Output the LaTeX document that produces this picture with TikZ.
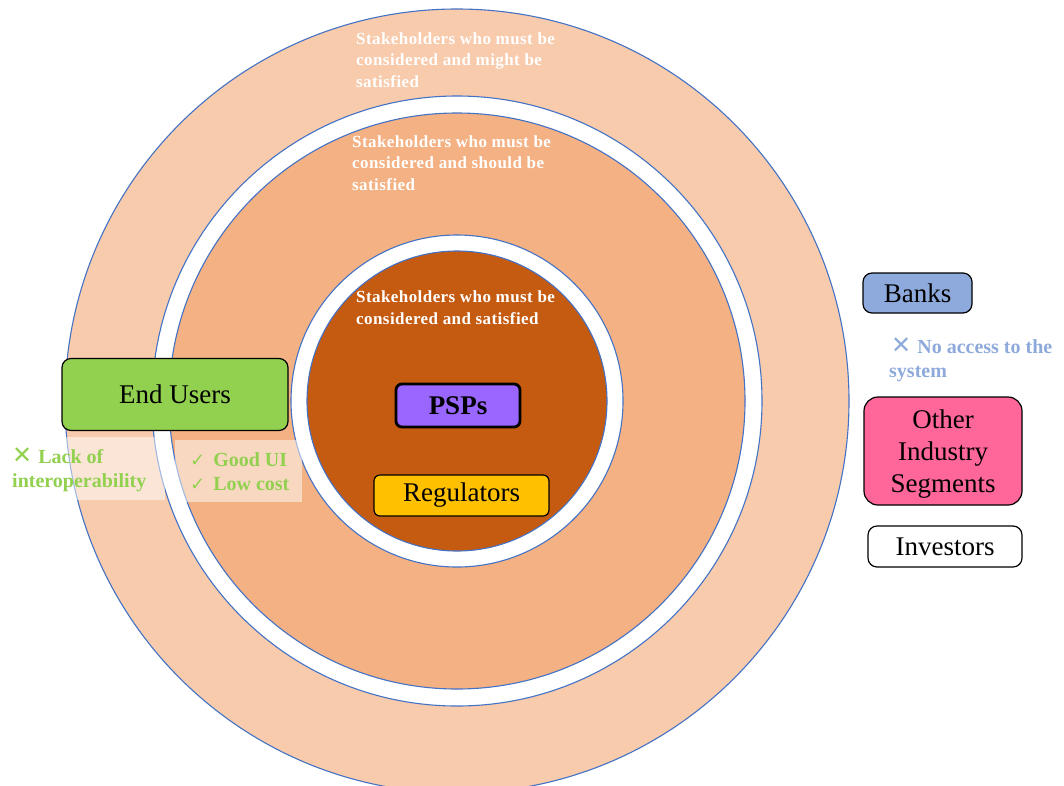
\documentclass[tikz,border=0pt]{standalone}
\usepackage{fontspec}
\setmainfont{Liberation Serif}
\newfontfamily\symfont{DejaVu Sans}
\definecolor{ringblue}{HTML}{4472C4}
\definecolor{outerpeach}{HTML}{F8CBAD}
\definecolor{midorange}{HTML}{F4B183}
\definecolor{coreorange}{HTML}{C55A11}
\definecolor{usergreen}{HTML}{92D050}
\definecolor{pspviolet}{HTML}{9966FF}
\definecolor{regyellow}{HTML}{FFC000}
\definecolor{bankblue}{HTML}{8EA9DB}
\definecolor{segpink}{HTML}{FF6699}
% thin cross and tick marks used in the remarks
\newcommand{\crossmark}{{\symfont\mdseries\fontsize{24}{24}\selectfont ✕}}
\newcommand{\tickmark}{{\symfont\mdseries\fontsize{18}{24}\selectfont ✓}}
\begin{document}
\begin{tikzpicture}[x=1pt,y=-1pt,
  disc/.style={draw=ringblue,line width=1.1pt},
  ringtext/.style={text=white,font=\bfseries\fontsize{17}{21.5}\selectfont\addfontfeatures{LetterSpace=2.5},align=left,inner sep=0pt,anchor=base west},
  actor/.style={draw=black,line width=1.2pt,rounded corners=9pt,inner sep=0pt,
    font=\fontsize{27}{32}\selectfont,align=center,text=black},
  note/.style={font=\bfseries\fontsize{20}{24}\selectfont,align=left,inner sep=0pt,anchor=base west},
  haze/.style={fill=white,fill opacity=0.5,draw=none}]
\useasboundingbox (0,0) rectangle (1064,785);

% concentric stakeholder rings
\fill[outerpeach,disc] (457,401) circle[radius=392];
\fill[white,disc] (457,401) circle[radius=305];
\fill[midorange,disc] (457,401) circle[radius=288];
\fill[white,disc] (457,401) circle[radius=166];
\fill[coreorange,disc] (457,401) circle[radius=150];

% ring captions (anchored at the baseline of their last line)
\node[ringtext] (outercap) at (356,87) {Stakeholders who must be\\considered and might be\\satisfied};
\node[ringtext] (midcap) at (352,190) {Stakeholders who must be\\considered and should be\\satisfied};
\node[ringtext] (corecap) at (356,324) {Stakeholders who must be\\considered and satisfied};

% core stakeholders
\node[actor,fill=pspviolet,line width=2.8pt,rounded corners=6pt,minimum width=124pt,minimum height=43pt,font=\bfseries\fontsize{27}{32}\selectfont] (psps) at (458,405.5) {PSPs};
\node[actor,fill=regyellow,rounded corners=6pt,minimum width=175pt,minimum height=41pt] (regulators) at (461.5,495.5) {Regulators};

% end users and their remarks
\node[actor,fill=usergreen,minimum width=226pt,minimum height=72pt] (endusers) at (175,394.5) {End Users};
\fill[haze] (8,437) rectangle (165,500);
\fill[haze] (175,440) rectangle (302,502);
\node[note,text=usergreen] (lack) at (12,487) {\crossmark\hspace{6pt}Lack of\\interoperability};
\node[note,text=usergreen] (good) at (190,490) {\tickmark\hspace{8pt}Good UI\\\tickmark\hspace{8pt}Low cost};

% stakeholders outside the rings
\node[actor,fill=bankblue,minimum width=109pt,minimum height=40pt] (banks) at (917.5,293) {Banks};
\node[note,text=bankblue] (noaccess) at (889,377) {\hspace{2pt}\crossmark\hspace{6pt}No access to the\\system};
\node[actor,fill=segpink,rounded corners=14pt,minimum width=158pt,minimum height=108pt] (segments) at (943,451) {};
\node[font=\fontsize{27}{32}\selectfont,align=center,inner sep=0pt,anchor=base] (segtext) at (943,492) {Other\\Industry\\Segments};
\node[actor,fill=white,minimum width=154pt,minimum height=41pt] (investors) at (945,546.5) {Investors};
\end{tikzpicture}
\end{document}
